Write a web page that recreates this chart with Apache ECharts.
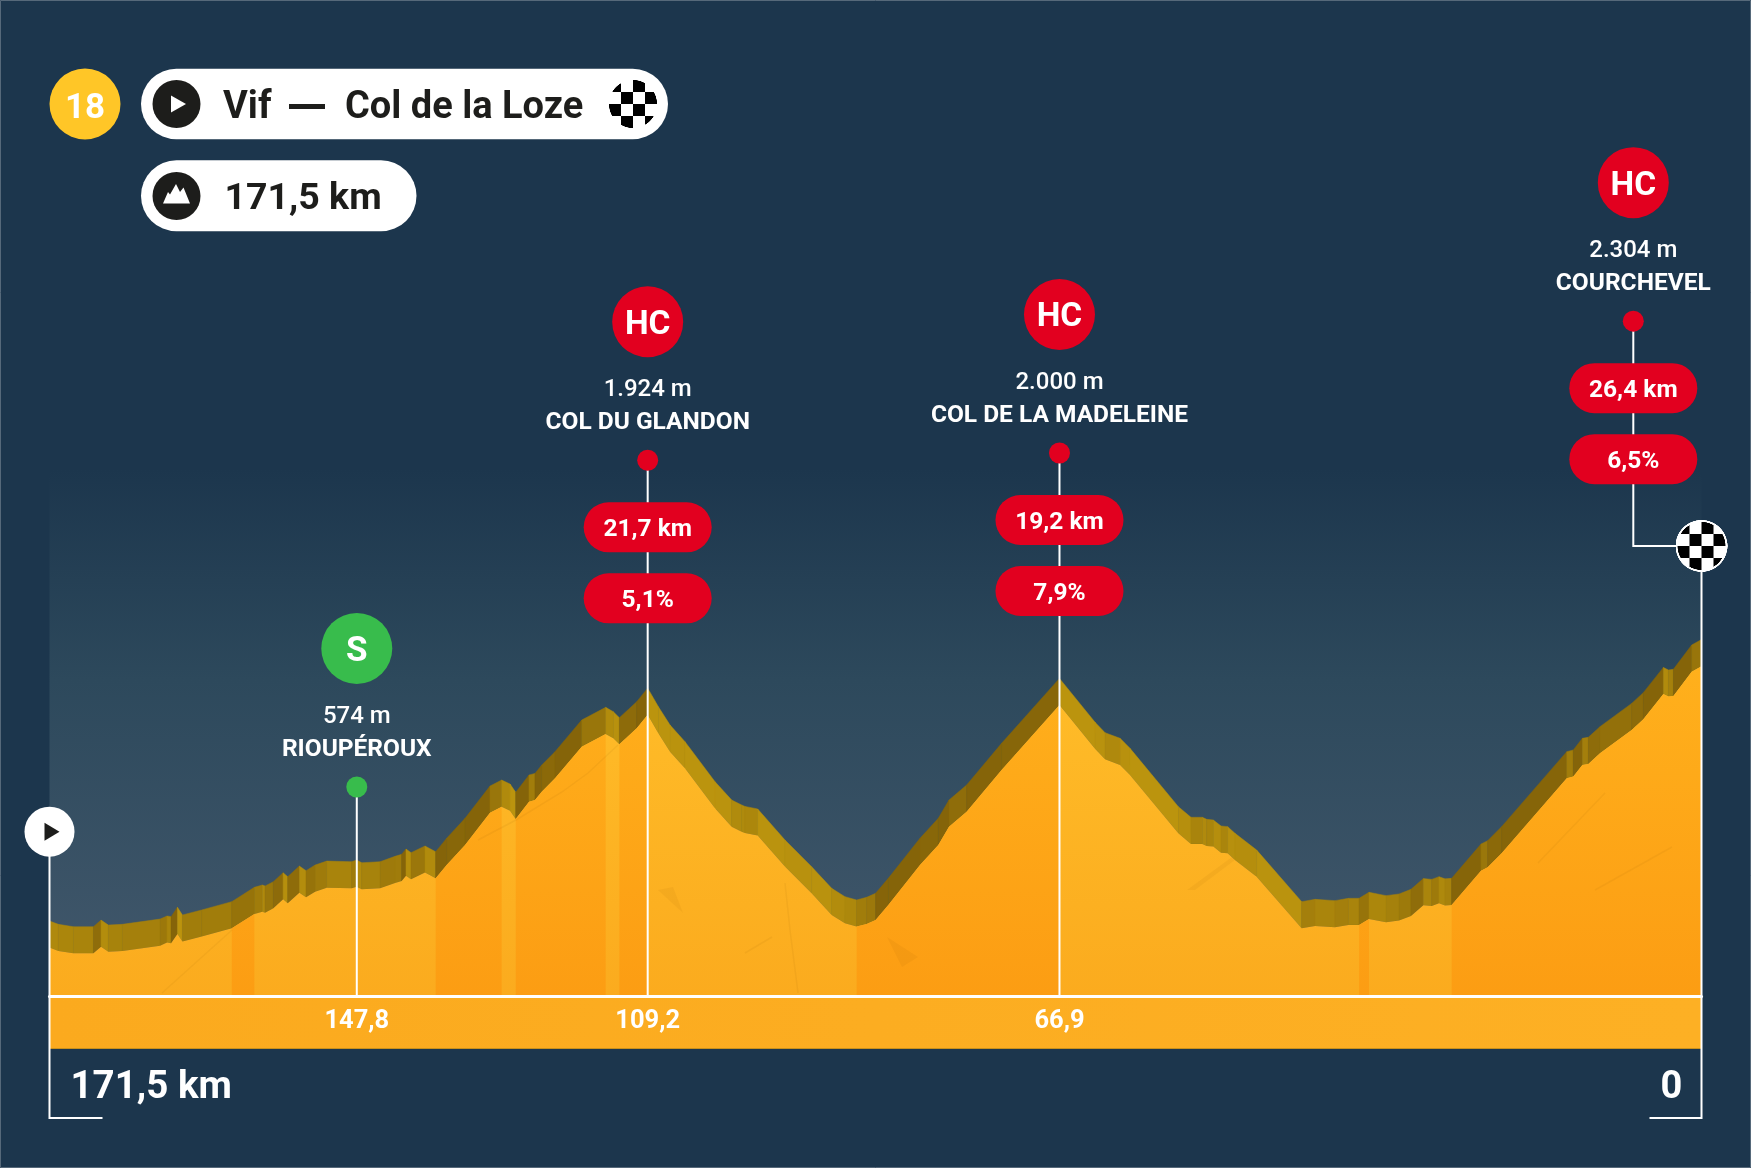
<!DOCTYPE html>
<html>
<head>
<meta charset="utf-8">
<title>Etappe 18</title>
<script src="https://cdn.jsdelivr.net/npm/echarts@6/dist/echarts.min.js"></script>
<style>
  html, body { margin: 0; padding: 0; background: #1c364d; }
  #chart { width: 1751px; height: 1168px; }
</style>
</head>
<body>
<div id="chart"></div>
<script>
// kilometres to go, left to right, and the road height in metres
const km = [171.5, 170.58, 169.02, 166.94, 166.15, 165.39, 163.93, 160.02, 159.30, 158.88, 158.22, 157.70, 155.70, 152.58, 150.23, 149.40, 149.12, 148.26, 147.25, 146.77, 145.56, 144.87, 143.93, 142.72, 140.13, 139.61, 139.09, 137.18, 135.63, 134.94, 134.49, 133.97, 132.52, 131.41, 130.27, 128.36, 125.77, 124.56, 123.69, 123.10, 121.72, 121.10, 120.40, 119.02, 116.25, 113.76, 112.97, 112.34, 110.54, 109.4, 108.29, 107.08, 105.53, 102.41, 100.68, 99.64, 99.30, 97.98, 95.15, 92.38, 90.30, 88.92, 87.71, 86.67, 85.74, 84.42, 81.13, 79.23, 78.12, 76.29, 72.66, 66.65, 62.96, 61.92, 60.36, 59.33, 54.31, 53.00, 51.82, 51.37, 50.68, 49.88, 49.19, 48.43, 46.18, 41.51, 40.12, 38.05, 36.66, 35.55, 34.52, 32.75, 31.40, 30.16, 28.88, 28.01, 27.25, 26.63, 25.94, 22.89, 22.20, 20.75, 13.99, 13.31, 12.37, 11.75, 10.54, 7.25, 6.04, 3.96, 3.44, 2.92, 1.02, 0];
const elevation = [105, 79, 60, 60, 112, 73, 79, 120, 144, 139, 212, 152, 191, 256, 368, 386, 378, 412, 482, 451, 534, 498, 542, 573, 568, 581, 560, 568, 610, 626, 667, 639, 691, 646, 751, 907, 1159, 1206, 1175, 1110, 1245, 1258, 1323, 1428, 1675, 1774, 1740, 1693, 1818, 1924, 1779, 1636, 1506, 1193, 1050, 1011, 1000, 980, 738, 529, 360, 295, 269, 290, 321, 438, 751, 907, 1050, 1167, 1493, 2000, 1658, 1576, 1532, 1454, 998, 915, 915, 899, 894, 847, 842, 790, 659, 256, 274, 264, 282, 282, 329, 303, 316, 352, 436, 430, 451, 434, 438, 706, 732, 842, 1428, 1441, 1532, 1540, 1623, 1805, 1889, 2086, 2066, 2071, 2261, 2304];

// stretches drawn in the darker orange
const steepFrom = [152.58, 131.41, 123.10, 112.34, 87.71, 35.55, 25.94];
const steepTo = [150.23, 124.56, 113.76, 109.4, 66.65, 34.52, 0];

// climbs and sprint
const climbKm = [139.6, 109.4, 66.65, 7.08];
const pinLevel = [1360, 3912, 3969, 4999];
const climbCat = ['S', 'HC', 'HC', 'HC'];
const climbHeight = ['574 m', '1.924 m', '2.000 m', '2.304 m'];
const climbName = ['RIOUPÉROUX', 'COL DU GLANDON', 'COL DE LA MADELEINE', 'COURCHEVEL'];
const climbLength = ['', '21,7 km', '19,2 km', '26,4 km'];
const climbGrade = ['', '5,1%', '7,9%', '6,5%'];
const kmLabel = ['147,8', '109,2', '66,9', ''];

const stageNo = '18';
const stageFrom = 'Vif';
const stageTo = 'Col de la Loze';
const stageLength = '171,5 km';
const startLevel = 1011;
const finishLevel = 3243;

const NAVY = '#1c364d';
const RED = '#e2001f';
const GREEN = '#38bc4c';
const DARK = '#1d1d1b';
const FONT = 'Roboto, sans-serif';
const AXIS_MIN = -273;
const AXIS_MAX = 3844;
const WALL = 208; // height of the "3d" wall on top of the road

function mix(a, b, t) {
  const pa = [1, 3, 5].map(i => parseInt(a.substr(i, 2), 16));
  const pb = [1, 3, 5].map(i => parseInt(b.substr(i, 2), 16));
  return 'rgb(' + pa.map((v, i) => Math.round(v + (pb[i] - v) * t)).join(',') + ')';
}

// rising parts of the wall are in the shade
function wallColor(slope) {
  const t = Math.max(-1, Math.min(1, slope / 90));
  return t > 0 ? mix('#a9840c', '#856409', t) : mix('#a9840c', '#bb940e', -t);
}

function checker(r, ring) {
  const c = document.createElement('canvas');
  const s = 4;
  const size = (r + ring) * 2;
  c.width = c.height = size * s;
  const g = c.getContext('2d');
  g.scale(s, s);
  g.translate(r + ring, r + ring);
  g.fillStyle = '#fff';
  g.beginPath();
  g.arc(0, 0, r + ring, 0, Math.PI * 2);
  g.fill();
  g.beginPath();
  g.arc(0, 0, r, 0, Math.PI * 2);
  g.clip();
  g.fillStyle = '#000';
  for (let i = -3; i < 3; i++) {
    for (let j = -3; j < 3; j++) {
      if ((i + j) % 2 === 0) g.fillRect(i * 12, j * 12, 12, 12);
    }
  }
  return c;
}

const flagBig = checker(24, 2);
const flagSmall = checker(24, 0);

function text(str, x, y, size, weight, fill, align) {
  return {
    type: 'text',
    z: 20,
    style: { text: str, x: x, y: y, fill: fill || '#fff', font: (weight || 700) + ' ' + size + 'px ' + FONT, align: align || 'center', verticalAlign: 'middle' }
  };
}

function renderWall(params, api) {
  const a = api.coord([api.value(0), api.value(1)]);
  const b = api.coord([api.value(2), api.value(3)]);
  const a2 = api.coord([api.value(0), api.value(1) + WALL]);
  const b2 = api.coord([api.value(2), api.value(3) + WALL]);
  const slope = (api.value(3) - api.value(1)) / (api.value(0) - api.value(2));
  const fill = wallColor(slope);
  return {
    type: 'polygon',
    shape: { points: [a2, b2, b, a] },
    style: { fill: fill, stroke: fill, lineWidth: 0.5 }
  };
}

function renderClimb(params, api) {
  const i = params.dataIndex;
  const pin = api.coord([api.value(0), api.value(1)]);
  const foot = api.coord([api.value(0), AXIS_MIN]);
  const x = pin[0];
  const y = pin[1];
  const color = climbCat[i] === 'S' ? GREEN : RED;
  const kids = [];
  const line = { stroke: '#fff', lineWidth: 2 };

  if (api.value(0) < 10) {
    // the last climb hangs on the finish flag
    const flag = api.coord([0, finishLevel]);
    kids.push({ type: 'polyline', shape: { points: [[x, y], [x, flag[1]], flag] }, style: { fill: null, stroke: '#fff', lineWidth: 2 } });
  } else {
    kids.push({ type: 'line', shape: { x1: x, y1: y, x2: x, y2: foot[1] }, style: line });
  }
  kids.push({ type: 'circle', shape: { cx: x, cy: y, r: 10.5 }, style: { fill: color } });
  kids.push({ type: 'circle', shape: { cx: x, cy: y - 138.5, r: 35.5 }, style: { fill: color } });
  kids.push(text(climbCat[i], x, y - 135, climbCat[i] === 'S' ? 35 : 33.5, 700));
  kids.push(text(climbHeight[i], x, y - 70, 24, 500));
  kids.push(text(climbName[i], x, y - 37.5, 24.5, 700));
  [climbLength[i], climbGrade[i]].forEach(function (t, n) {
    if (!t) return;
    const cy = y + (n === 0 ? 67 : 138);
    kids.push({ type: 'rect', shape: { x: x - 64, y: cy - 25, width: 128, height: 50, r: 25 }, style: { fill: RED } });
    kids.push(text(t, x, cy + 3, 24.5, 700));
  });
  if (kmLabel[i]) kids.push(text(kmLabel[i], x, foot[1] + 25.5, 25.5, 700));
  return { type: 'group', children: kids };
}

function renderEnd(params, api) {
  const p = api.coord([api.value(0), api.value(1)]);
  const base = api.coord([api.value(0), AXIS_MIN]);
  const bottom = base[1] + 122;
  const x = p[0];
  const kids = [];
  if (params.dataIndex === 0) {
    kids.push({ type: 'polyline', shape: { points: [[x, p[1]], [x, bottom], [x + 53, bottom]] }, style: { fill: null, stroke: '#fff', lineWidth: 2 } });
    kids.push({ type: 'circle', shape: { cx: x, cy: p[1], r: 25 }, style: { fill: '#fff' } });
    kids.push({ type: 'polygon', shape: { points: [[x - 5, p[1] - 9], [x + 10, p[1]], [x - 5, p[1] + 9]] }, style: { fill: DARK } });
    kids.push(text(stageLength, x + 21, base[1] + 92.5, 38.5, 700, '#fff', 'left'));
  } else {
    kids.push({ type: 'polyline', shape: { points: [[x, p[1]], [x, bottom], [x - 52, bottom]] }, style: { fill: null, stroke: '#fff', lineWidth: 2 } });
    kids.push({ type: 'image', style: { image: flagBig, x: x - 26, y: p[1] - 26, width: 52, height: 52 } });
    kids.push(text('0', x - 30, base[1] + 92.5, 38, 700));
  }
  return { type: 'group', children: kids };
}

// faint cracks of the rock texture on the profile
const crack = 'rgba(140,90,0,0.08)';
function stroke(points) {
  return { type: 'polyline', z: 4, silent: true, shape: { points: points }, style: { fill: null, stroke: crack, lineWidth: 1.5 } };
}
function patch(points) {
  return { type: 'polygon', z: 4, silent: true, shape: { points: points }, style: { fill: 'rgba(140,90,0,0.07)' } };
}

const chart = echarts.init(document.getElementById('chart'), null, { renderer: 'canvas' });

chart.setOption({
  backgroundColor: NAVY,
  animation: false,
  tooltip: { show: false },
  grid: {
    show: true,
    left: 49.5,
    right: 49.5,
    top: 469,
    bottom: 172,
    borderWidth: 0,
    backgroundColor: new echarts.graphic.LinearGradient(0, 0, 0, 1, [
      { offset: 0, color: NAVY },
      { offset: 0.4, color: '#2d495c' },
      { offset: 1, color: '#42586c' }
    ])
  },
  xAxis: {
    type: 'value',
    inverse: true,
    min: 0,
    max: 171.5,
    z: 6,
    axisLine: { show: true, onZero: false, lineStyle: { color: '#fff', width: 3 } },
    axisTick: { show: false },
    axisLabel: { show: false },
    splitLine: { show: false }
  },
  yAxis: {
    type: 'value',
    min: AXIS_MIN,
    max: AXIS_MAX,
    show: false,
    splitLine: { show: false }
  },
  graphic: [
    // strip under the profile
    { type: 'rect', z: 1, shape: { x: 49.5, y: 996, width: 1652, height: 52.5 },
      style: { fill: new echarts.graphic.LinearGradient(0, 0, 1, 0, [{ offset: 0, color: '#fbaa1e' }, { offset: 1, color: '#fdb024' }]) } },
    { type: 'rect', z: 1, shape: { x: 49.5, y: 1048, width: 1652, height: 1 }, style: { fill: '#c8901c' } },
    { type: 'rect', z: 1, shape: { x: 0.5, y: 0.5, width: 1750, height: 1167 }, style: { fill: null, stroke: '#56697a', lineWidth: 1 } },

    // texture
    stroke([[478, 840], [516, 820], [562, 792], [588, 773], [618, 745]]),
    stroke([[785, 883], [790, 930], [798, 993]]),
    stroke([[745, 953], [772, 937]]),
    stroke([[1595, 890], [1672, 847]]),
    stroke([[1538, 863], [1605, 793]]),
    stroke([[162, 993], [232, 930]]),
    patch([[658, 890], [673, 887], [683, 913]]),
    patch([[887, 937], [902, 967], [918, 957]]),
    patch([[1187, 890], [1232, 857], [1235, 860], [1195, 890]]),

    // stage title
    { type: 'circle', z: 10, shape: { cx: 85, cy: 104, r: 35.5 }, style: { fill: '#ffc627' } },
    { type: 'text', z: 11, style: { text: stageNo, x: 85, y: 109, fill: '#fff', font: '700 35px ' + FONT, align: 'center', verticalAlign: 'middle' } },
    { type: 'rect', z: 10, shape: { x: 141, y: 68.7, width: 527, height: 70.6, r: 35.3 }, style: { fill: '#fff' } },
    { type: 'circle', z: 11, shape: { cx: 176.5, cy: 104, r: 24 }, style: { fill: DARK } },
    { type: 'polygon', z: 12, shape: { points: [[171, 95.5], [186, 104], [171, 112.5]] }, style: { fill: '#fff' } },
    { type: 'text', z: 11, style: { text: stageFrom, x: 223, y: 108.5, fill: DARK, font: '700 38px ' + FONT, align: 'left', verticalAlign: 'middle' } },
    { type: 'rect', z: 11, shape: { x: 289, y: 104, width: 36, height: 5 }, style: { fill: DARK } },
    { type: 'text', z: 11, style: { text: stageTo, x: 345, y: 108.5, fill: DARK, font: '700 38px ' + FONT, align: 'left', verticalAlign: 'middle' } },
    { type: 'image', z: 11, style: { image: flagSmall, x: 609, y: 80, width: 48, height: 48 } },

    // stage length
    { type: 'rect', z: 10, shape: { x: 141, y: 160.3, width: 275.5, height: 71, r: 35.5 }, style: { fill: '#fff' } },
    { type: 'circle', z: 11, shape: { cx: 176.5, cy: 196, r: 24 }, style: { fill: DARK } },
    { type: 'polygon', z: 12, shape: { points: [[163, 203.5], [168, 192], [170, 194.5], [176, 184], [180, 192], [183.5, 187.5], [190, 203.5]] }, style: { fill: '#fff' } },
    { type: 'text', z: 11, style: { text: stageLength, x: 224.5, y: 199.5, fill: DARK, font: '700 37.5px ' + FONT, align: 'left', verticalAlign: 'middle' } }
  ],
  series: [
    {
      type: 'custom',
      name: 'wall',
      z: 1,
      silent: true,
      clip: false,
      encode: { x: [0, 2], y: [1, 3] },
      renderItem: renderWall,
      data: km.slice(0, -1).map((k, i) => [k, elevation[i], km[i + 1], elevation[i + 1]])
    },
    {
      type: 'line',
      name: 'profile',
      z: 2,
      silent: true,
      showSymbol: false,
      lineStyle: { width: 0 },
      areaStyle: {
        origin: 'start',
        opacity: 1,
        color: new echarts.graphic.LinearGradient(0, 0, 0, 1, [
          { offset: 0, color: '#ffbd29' },
          { offset: 1, color: '#fbab1e' }
        ])
      },
      data: km.map((k, i) => [k, elevation[i]])
    },
    {
      type: 'line',
      name: 'steep',
      z: 3,
      silent: true,
      showSymbol: false,
      connectNulls: false,
      lineStyle: { width: 0 },
      areaStyle: {
        origin: 'start',
        opacity: 1,
        color: new echarts.graphic.LinearGradient(0, 0, 0, 1, [
          { offset: 0, color: '#ffb01c' },
          { offset: 1, color: '#fc9d13' }
        ])
      },
      data: km.map((k, i) => [k, steepFrom.some((f, n) => k <= f && k >= steepTo[n]) ? elevation[i] : null])
    },
    {
      type: 'custom',
      name: 'climbs',
      z: 5,
      silent: true,
      clip: false,
      encode: { x: 0, y: 1 },
      renderItem: renderClimb,
      data: climbKm.map((k, i) => [k, pinLevel[i]])
    },
    {
      type: 'custom',
      name: 'ends',
      z: 5,
      silent: true,
      clip: false,
      encode: { x: 0, y: 1 },
      renderItem: renderEnd,
      data: [[171.5, startLevel], [0, finishLevel]]
    }
  ]
});
</script>
</body>
</html>
